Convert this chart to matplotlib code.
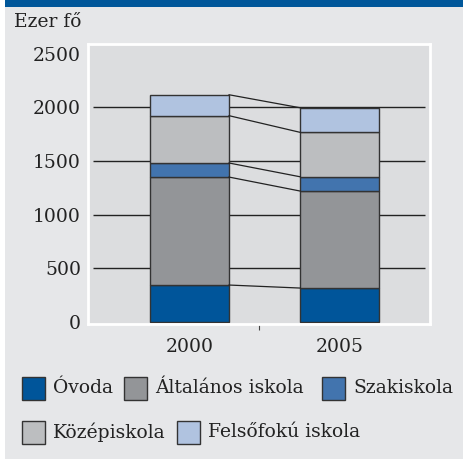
import matplotlib
matplotlib.use("Agg")
import matplotlib.pyplot as plt
from matplotlib.patches import Rectangle
import numpy as np

years = ["2000", "2005"]
categories = ["Óvoda", "Általános iskola", "Szakiskola", "Középiskola", "Felsőfokú iskola"]
values_2000 = [345, 1006, 131, 441, 195]
values_2005 = [317, 904, 133, 414, 229]
colors = ["#00559a", "#939598", "#4274ae", "#bcbec0", "#b0c3e0"]
yticks = [0, 500, 1000, 1500, 2000, 2500]

plt.rcParams['font.family'] = ['DejaVu Serif']

W, H = 464, 459
fig = plt.figure(figsize=(W / 100, H / 100), dpi=100)
fig.patch.set_facecolor("white")
# background panels
fig.add_artist(Rectangle((5 / W, 0), (W - 5) / W, (H - 7) / H, transform=fig.transFigure,
                         facecolor="#e6e7e9", edgecolor="none", zorder=0))
fig.add_artist(Rectangle((5 / W, (H - 7) / H), (W - 5) / W, 7 / H, transform=fig.transFigure,
                         facecolor="#00579a", edgecolor="none", zorder=0))

ax_l, ax_r, ax_t, ax_b = 88, 430, 44, 324
ax = fig.add_axes([ax_l / W, 1 - ax_b / H, (ax_r - ax_l) / W, (ax_b - ax_t) / H])
ax.set_facecolor("#dcdddf")
for s in ax.spines.values():
    s.set_color("white")
    s.set_linewidth(2)

x = np.arange(len(years))
width = 0.527
data = np.array([values_2000, values_2005])
ax.set_xlim(-0.677, 1.603)
ax.set_ylim(-18, 2591)

# gridlines
for yv in yticks[1:-1]:
    ax.hlines(yv, -0.643, 1.57, color="#222222", linewidth=1.0, zorder=1)

bottoms = np.zeros(len(years))
for i, cat in enumerate(categories):
    vals = data[:, i]
    ax.bar(x, vals, width, bottom=bottoms, color=colors[i], edgecolor="#333333",
           linewidth=1.0, zorder=2)
    tops = bottoms + vals
    ax.plot([x[0] + width / 2, x[1] - width / 2], [tops[0], tops[1]],
            color="#222222", linewidth=0.9, zorder=3)
    bottoms = tops

ax.set_yticks(yticks)
ax.set_yticklabels([str(t) for t in yticks], fontsize=13.5, color="#222222")
ax.tick_params(axis="y", length=0, pad=5)
for lbl in ax.get_yticklabels():
    lbl.set_y(lbl.get_position()[1])
ax.set_xticks([0.463])
ax.set_xticklabels([""])
ax.tick_params(axis="x", length=4, width=0.8, color="#444444", direction="out")

for xi, yr in zip(x, years):
    ax.text(xi, -0.05, yr, transform=ax.get_xaxis_transform(), ha="center", va="top",
            fontsize=13.5, color="#222222")

fig.text(14 / W, 1 - 22 / H, "Ezer fő", ha="left", va="center", fontsize=13.5, color="#222222")

# legend
leg_pos = [(22, 388), (124, 388), (322, 388), (22, 432), (177, 432)]
for (px, py), cat, col in zip(leg_pos, categories, colors):
    fig.add_artist(Rectangle((px / W, 1 - (py + 11.5) / H), 23 / W, 23 / H,
                             transform=fig.transFigure, facecolor=col,
                             edgecolor="#333333", linewidth=1.0))
    fig.text((px + 31) / W, 1 - py / H, cat, ha="left", va="center",
             fontsize=13.5, color="#222222")

fig.savefig("out.png", dpi=100, facecolor=fig.get_facecolor())
